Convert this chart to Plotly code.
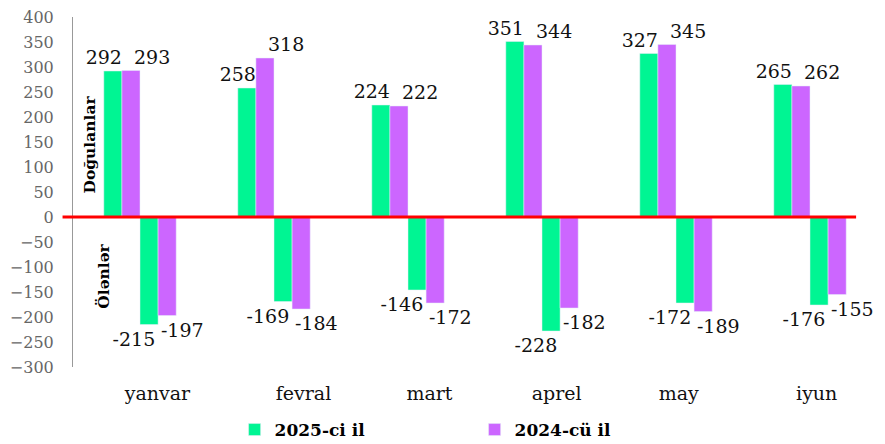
import plotly.graph_objects as go

months = ["yanvar", "fevral", "mart", "aprel", "may", "iyun"]
births_2025 = [292, 258, 224, 351, 327, 265]
births_2024 = [293, 318, 222, 344, 345, 262]
deaths_2025 = [-215, -169, -146, -228, -172, -176]
deaths_2024 = [-197, -184, -172, -182, -189, -155]
series_names = ["2025-ci il", "2024-cü il"]
y_ticks = list(range(-300, 401, 50))

# layout-only helpers
x_pos = list(range(len(months)))
label_shift = [0.13, 0.22, 0.16, 0.11, 0.02, 0.05]

GREEN = "#00F593"
VIOLET = "#CC66FF"
FONT = "DejaVu Serif"
NB = "\u00a0"

def lbl(vals, left_pad=0, right_pad=0):
    return [NB * left_pad + str(v) + NB * right_pad for v in vals]

fig = go.Figure()
common = dict(textposition="outside", constraintext="none", cliponaxis=False,
              textfont=dict(family=FONT, size=19, color="#111"))
fig.add_trace(go.Bar(x=x_pos, y=births_2025, name=series_names[0], marker_color=GREEN,
                     text=lbl(births_2025, 0, 3), legendgroup="a", **common))
fig.add_trace(go.Bar(x=x_pos, y=births_2024, name=series_names[1], marker_color=VIOLET,
                     text=lbl(births_2024, 7, 0), legendgroup="b", **common))
fig.add_trace(go.Bar(x=x_pos, y=deaths_2025, name=series_names[0], marker_color=GREEN,
                     text=lbl(deaths_2025, 0, 5), legendgroup="a", showlegend=False, **common))
fig.add_trace(go.Bar(x=x_pos, y=deaths_2024, name=series_names[1], marker_color=VIOLET,
                     text=lbl(deaths_2024, 5, 0), legendgroup="b", showlegend=False, **common))

fig.update_layout(
    width=877, height=436,
    margin=dict(l=65, r=8, t=9, b=77, autoexpand=False),
    paper_bgcolor="white", plot_bgcolor="white",
    barmode="group", bargap=0.46, bargroupgap=0,
    font=dict(family=FONT, color="#000"),
    showlegend=True,
    legend=dict(orientation="h", x=0.201, xanchor="left", y=-0.18, yanchor="middle",
                entrywidth=195, entrywidthmode="pixels",
                font=dict(family=FONT, size=17, color="#000", weight="bold"),
                traceorder="normal", bgcolor="rgba(0,0,0,0)"),
    xaxis=dict(range=[-0.5, 5.5], tickmode="array",
               tickvals=[p + s for p, s in zip(x_pos, label_shift)], ticktext=months,
               showgrid=False, zeroline=False, showline=False, ticks="",
               tickfont=dict(family=FONT, size=19, color="#111"),
               ticklabelstandoff=13, automargin=False),
    yaxis=dict(range=[-300, 400], tickmode="array", tickvals=y_ticks,
               showgrid=False, zeroline=False, showline=True, linecolor="#999", linewidth=1,
               ticks="", tickfont=dict(family=FONT, size=16, color="#666"),
               ticklabelstandoff=15, ticklabeloverflow="allow", automargin=False),
    shapes=[dict(type="line", xref="paper", yref="y", x0=-0.013, x1=0.974, y0=0, y1=0,
                 line=dict(color="#FF0000", width=3), layer="above")],
    annotations=[
        dict(text="Doğulanlar", xref="paper", yref="paper", x=0.0205, y=0.637,
             textangle=-90, showarrow=False, xanchor="center", yanchor="middle",
             font=dict(family=FONT, size=15.5, color="#000", weight="bold")),
        dict(text="Ölənlər", xref="paper", yref="paper", x=0.037, y=0.26,
             textangle=-90, showarrow=False, xanchor="center", yanchor="middle",
             font=dict(family=FONT, size=15.5, color="#000", weight="bold")),
    ],
)

fig.write_html("out.html")
